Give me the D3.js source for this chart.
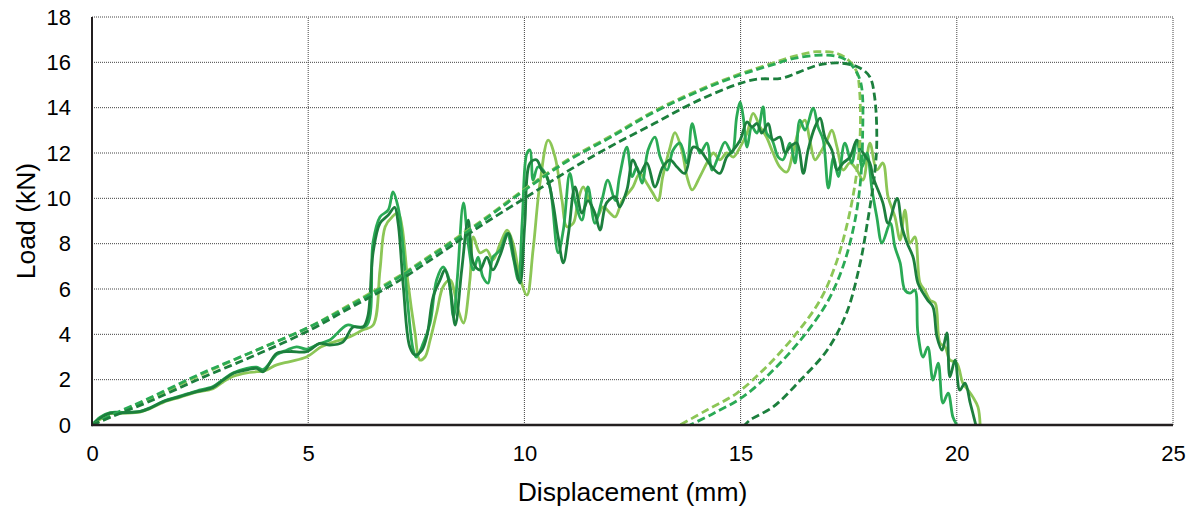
<!DOCTYPE html>
<html>
<head>
<meta charset="utf-8">
<script src="https://cdn.jsdelivr.net/npm/d3@7"></script>
<style>
  body { margin: 0; background: #fff; }
  text { font-family: "Liberation Sans", Arial, sans-serif; fill: #000; }
</style>
</head>
<body>
<div id="dataviz"></div>
<script>
const margin = {top: 17, right: 23, bottom: 87, left: 92};
const width = 1196;
const height = 512;

let xTicks = [0, 5, 10, 15, 20, 25];
let yTicks = [0, 2, 4, 6, 8, 10, 12, 14, 16, 18];

// test curves, [displacement mm, load kN]
let testLight = [[0,0],[0.19,0.25],[0.42,0.5],[0.72,0.52],[1.11,0.57],[1.34,0.72],[1.65,1.0],[2.03,1.22],[2.42,1.45],[2.8,1.6],[3.03,1.9],[3.27,2.15],[3.58,2.3],[3.81,2.35],[4.0,2.4],[4.27,2.65],[4.58,2.8],[4.96,3.0],[5.3,3.45],[5.5,3.6],[5.97,3.9],[6.27,4.2],[6.5,4.4],[6.66,6.84],[6.78,8.75],[6.94,9.18],[7.08,9.35],[7.17,8.75],[7.3,6.4],[7.47,4.06],[7.58,2.87],[7.7,3.0],[7.82,3.75],[7.97,4.94],[8.12,6.1],[8.28,6.4],[8.47,5.07],[8.59,4.5],[8.74,6.4],[8.82,8.3],[8.97,7.6],[9.13,7.72],[9.27,7.28],[9.44,8.0],[9.6,8.6],[9.74,8.0],[9.9,6.5],[10.06,5.73],[10.2,7.72],[10.36,10.67],[10.55,12.57],[10.71,11.82],[10.87,9.9],[10.98,8.75],[11.13,8.9],[11.24,9.9],[11.36,10.5],[11.52,9.8],[11.68,9.18],[11.82,9.62],[11.98,9.35],[12.1,9.18],[12.26,9.9],[12.4,10.23],[12.51,10.5],[12.67,11.1],[12.83,10.67],[12.97,10.23],[13.09,9.9],[13.2,10.96],[13.37,12.26],[13.48,12.9],[13.64,12.13],[13.76,10.96],[13.88,10.37],[14.06,10.96],[14.22,11.56],[14.37,12.0],[14.52,11.7],[14.68,12.0],[14.83,11.82],[14.99,12.26],[15.15,12.88],[15.29,13.75],[15.45,13.15],[15.6,12.7],[15.75,12.0],[15.91,11.38],[16.07,11.16],[16.21,12.0],[16.37,13.15],[16.49,13.45],[16.6,12.57],[16.72,11.7],[16.84,12.0],[17.0,12.57],[17.11,13.01],[17.23,12.26],[17.37,11.25],[17.53,11.56],[17.69,11.25],[17.83,10.8],[17.99,12.44],[18.15,11.25],[18.29,11.56],[18.41,10.07],[18.57,9.18],[18.69,8.16],[18.8,9.48],[18.92,8.03],[19.03,8.3],[19.15,6.26],[19.26,5.95],[19.38,5.51],[19.5,5.38],[19.61,3.62],[19.73,3.44],[19.84,2.87],[20.0,2.73],[20.14,1.85],[20.26,1.54],[20.37,1.24],[20.49,0.79],[20.54,0]];

let testMed = [[0,0],[0.19,0.35],[0.42,0.55],[0.72,0.56],[1.11,0.6],[1.34,0.76],[1.65,1.05],[2.03,1.27],[2.42,1.5],[2.8,1.7],[3.03,2.0],[3.27,2.3],[3.58,2.5],[3.81,2.55],[3.96,2.45],[4.27,3.1],[4.5,3.3],[4.73,3.45],[4.96,3.35],[5.27,3.6],[5.5,3.75],[5.9,4.41],[6.13,4.32],[6.36,4.41],[6.5,8.07],[6.66,9.18],[6.85,9.48],[6.96,10.28],[7.08,9.6],[7.17,8.3],[7.3,5.38],[7.43,3.3],[7.5,3.0],[7.66,3.6],[7.82,4.5],[7.97,6.4],[8.12,6.97],[8.24,6.53],[8.36,4.76],[8.45,6.5],[8.59,9.8],[8.7,8.0],[8.82,6.84],[8.93,7.4],[9.04,6.53],[9.16,6.26],[9.27,7.4],[9.44,7.72],[9.6,8.45],[9.74,7.4],[9.86,6.4],[9.95,9.0],[10.06,12.0],[10.13,12.13],[10.2,10.8],[10.31,11.38],[10.43,11.25],[10.59,10.5],[10.78,7.6],[10.9,8.6],[11.05,11.1],[11.17,9.9],[11.33,9.04],[11.47,10.5],[11.63,8.9],[11.79,9.9],[11.93,10.8],[12.1,9.9],[12.2,10.96],[12.37,12.26],[12.49,10.96],[12.6,11.38],[12.72,10.67],[12.86,12.13],[13.02,12.7],[13.14,11.82],[13.3,11.25],[13.44,12.13],[13.6,12.44],[13.76,11.56],[13.88,13.3],[14.06,12.0],[14.22,12.44],[14.34,11.25],[14.48,11.82],[14.64,12.48],[14.8,12.0],[14.91,13.6],[14.99,14.25],[15.06,13.6],[15.15,12.26],[15.26,13.15],[15.38,12.88],[15.52,14.03],[15.6,12.88],[15.73,12.57],[15.87,11.82],[15.98,11.7],[16.14,12.44],[16.26,11.56],[16.37,13.45],[16.49,13.01],[16.68,13.98],[16.79,13.15],[16.91,12.57],[17.03,10.45],[17.15,11.82],[17.26,10.96],[17.41,12.44],[17.57,11.56],[17.69,12.57],[17.81,11.38],[17.92,12.0],[18.04,10.37],[18.15,9.18],[18.27,8.03],[18.46,8.9],[18.57,7.85],[18.69,7.15],[18.8,5.95],[18.92,5.82],[19.03,5.95],[19.1,4.06],[19.22,3.0],[19.33,3.44],[19.45,1.98],[19.57,2.73],[19.68,0.97],[19.8,1.41],[19.91,0.35],[20.0,0]];

let testDark = [[0,0],[0.19,0.3],[0.42,0.52],[0.72,0.54],[1.11,0.59],[1.34,0.74],[1.65,1.03],[2.03,1.25],[2.42,1.47],[2.8,1.66],[3.03,1.98],[3.27,2.28],[3.58,2.43],[3.81,2.5],[3.96,2.35],[4.27,3.16],[4.58,3.24],[4.96,3.24],[5.27,3.6],[5.5,3.53],[5.8,3.66],[6.04,4.32],[6.27,4.32],[6.38,4.8],[6.5,7.6],[6.66,8.9],[6.85,9.26],[7.0,9.6],[7.08,8.9],[7.2,6.1],[7.35,3.44],[7.47,3.09],[7.63,3.3],[7.75,3.97],[7.89,5.65],[8.05,6.4],[8.16,6.84],[8.28,6.1],[8.4,4.41],[8.55,6.84],[8.7,9.04],[8.82,7.15],[8.97,6.84],[9.13,7.4],[9.27,6.84],[9.44,7.5],[9.63,8.45],[9.78,7.15],[9.9,6.26],[10.01,8.9],[10.13,11.56],[10.28,11.7],[10.4,11.25],[10.52,10.96],[10.66,9.8],[10.78,8.3],[10.9,7.15],[11.02,8.45],[11.17,10.5],[11.33,9.35],[11.47,9.9],[11.63,9.35],[11.75,8.6],[11.9,9.8],[12.1,10.07],[12.2,9.62],[12.37,10.37],[12.51,11.7],[12.67,11.1],[12.83,11.56],[13.02,10.5],[13.2,11.38],[13.37,11.7],[13.53,11.38],[13.71,11.1],[13.9,12.26],[14.06,12.13],[14.22,11.7],[14.34,11.38],[14.52,11.1],[14.68,11.82],[14.83,12.13],[14.99,12.57],[15.15,13.37],[15.26,13.15],[15.38,13.3],[15.49,12.88],[15.64,13.3],[15.75,12.57],[15.91,12.7],[16.03,12.0],[16.14,12.26],[16.3,12.44],[16.45,11.1],[16.56,12.13],[16.72,13.15],[16.84,13.54],[16.95,12.7],[17.11,12.13],[17.23,11.25],[17.37,11.56],[17.53,11.82],[17.69,12.57],[17.83,12.0],[17.99,11.56],[18.06,10.96],[18.29,9.8],[18.41,8.9],[18.62,10.0],[18.73,8.75],[18.85,8.03],[18.99,7.4],[19.1,6.26],[19.22,5.82],[19.33,5.5],[19.45,5.2],[19.54,3.9],[19.66,3.3],[19.77,4.06],[19.84,2.12],[19.96,2.87],[20.07,1.54],[20.19,1.85],[20.31,0.97],[20.37,0.53],[20.44,0]];

// simulation curves (dashed)
let simLight = [[0,0],[0.5,0.45],[1.34,1.15],[2.5,2.2],[3.8,3.3],[5,4.3],[6,5.35],[7,6.45],[8,7.7],[9,9.0],[10,10.4],[11,11.7],[12,12.75],[13,13.85],[14,14.75],[15,15.5],[15.75,15.97],[16.3,16.3],[16.76,16.47],[17.22,16.4],[17.49,16.1],[17.68,15.6],[17.75,14.8],[17.76,12.57],[17.65,10.67],[17.45,8.75],[17.18,6.98],[16.84,5.51],[16.3,4.06],[15.6,2.57],[14.91,1.4],[14.22,0.66],[13.6,0]];
let simMed = [[0,0],[0.5,0.48],[1.34,1.2],[2.5,2.25],[3.8,3.3],[5,4.3],[6,5.3],[7,6.4],[8,7.65],[9,8.95],[10,10.35],[11,11.65],[12,12.7],[13,13.8],[14,14.7],[15,15.45],[15.75,15.9],[16.3,16.2],[16.99,16.32],[17.38,16.17],[17.6,15.8],[17.78,15.1],[17.82,12.57],[17.76,10.51],[17.6,8.6],[17.34,6.84],[16.99,5.37],[16.45,3.9],[15.76,2.43],[15.06,1.25],[14.37,0.51],[13.83,0]];
let simDark = [[0,0],[0.5,0.4],[1.34,1.05],[2.5,2.05],[3.8,3.1],[5,4.15],[6,5.2],[7,6.25],[8,7.5],[9,8.8],[10,10.0],[11,11.2],[12,12.3],[13,13.3],[14,14.3],[15,15.08],[15.4,15.26],[15.95,15.3],[16.35,15.57],[16.8,15.88],[17.3,15.97],[17.76,15.75],[17.99,15.35],[18.1,14.47],[18.15,12.57],[18.1,11.1],[17.93,8.9],[17.76,7.1],[17.45,4.94],[17.0,3.3],[16.37,1.95],[15.76,0.81],[15.22,0.22],[15.1,0]];

const LIGHT = "#8cc656";
const MED = "#2aaa55";
const DARK = "#1c7f3d";

let svg = d3.select("#dataviz")
  .append("svg")
    .attr("width", width)
    .attr("height", height);

let xScale = d3.scaleLinear()
  .domain([0, 25])
  .range([margin.left, width - margin.right]);
let yScale = d3.scaleLinear()
  .domain([0, 18])
  .range([height - margin.bottom, margin.top]);

// grid
svg.append("g")
  .selectAll("line")
  .data(yTicks.slice(1))
  .enter().append("line")
    .attr("x1", xScale(0)).attr("x2", xScale(25))
    .attr("y1", d => yScale(d)).attr("y2", d => yScale(d))
    .attr("stroke", "#444")
    .attr("stroke-width", 1)
    .attr("stroke-dasharray", "1,1");
svg.append("g")
  .selectAll("line")
  .data(xTicks.slice(1))
  .enter().append("line")
    .attr("x1", d => xScale(d)).attr("x2", d => xScale(d))
    .attr("y1", yScale(0)).attr("y2", yScale(18))
    .attr("stroke", "#444")
    .attr("stroke-width", 1)
    .attr("stroke-dasharray", "1,1");

// axes with labels only
let xAxis = d3.axisBottom(xScale).tickValues(xTicks).tickSize(0).tickPadding(20);
let yAxis = d3.axisLeft(yScale).tickValues(yTicks).tickSize(0).tickPadding(21);

let gx = svg.append("g")
  .attr("transform", "translate(0," + yScale(0) + ")")
  .call(xAxis);
let gy = svg.append("g")
  .attr("transform", "translate(" + xScale(0) + ",0)")
  .call(yAxis);
[gx, gy].forEach(g => {
  g.select(".domain").remove();
  g.selectAll("text")
    .attr("font-size", "22px")
    .attr("font-family", "Liberation Sans, Arial, sans-serif")
    .attr("fill", "#000");
});

let line = d3.line()
  .x(d => xScale(d[0]))
  .y(d => yScale(d[1]))
  .curve(d3.curveCatmullRom.alpha(0.5));

let solids = [[testLight, LIGHT], [testMed, MED], [testDark, DARK]];
let dashed = [[simLight, LIGHT], [simMed, MED], [simDark, DARK]];

solids.forEach(s => {
  svg.append("path")
    .datum(s[0])
    .attr("d", line)
    .attr("fill", "none")
    .attr("stroke", s[1])
    .attr("stroke-width", 2.8)
    .attr("stroke-linejoin", "round");
});
dashed.forEach(s => {
  svg.append("path")
    .datum(s[0])
    .attr("d", line)
    .attr("fill", "none")
    .attr("stroke", s[1])
    .attr("stroke-width", 2.8)
    .attr("stroke-dasharray", "8,4");
});

// axis lines
svg.append("line")
  .attr("x1", xScale(0)).attr("x2", xScale(0))
  .attr("y1", yScale(0) + 1).attr("y2", yScale(18))
  .attr("stroke", "#231f20").attr("stroke-width", 2);
svg.append("line")
  .attr("x1", xScale(0) - 1).attr("x2", xScale(25))
  .attr("y1", yScale(0)).attr("y2", yScale(0))
  .attr("stroke", "#231f20").attr("stroke-width", 2.5);

// titles
svg.append("text")
  .text("Displacement (mm)")
  .attr("x", xScale(12.5))
  .attr("y", 501)
  .attr("font-size", "26.5px")
  .attr("text-anchor", "middle");
svg.append("text")
  .text("Load (kN)")
  .attr("transform", "translate(35," + yScale(9) + ") rotate(-90)")
  .attr("font-size", "26.5px")
  .attr("text-anchor", "middle");
</script>
</body>
</html>
